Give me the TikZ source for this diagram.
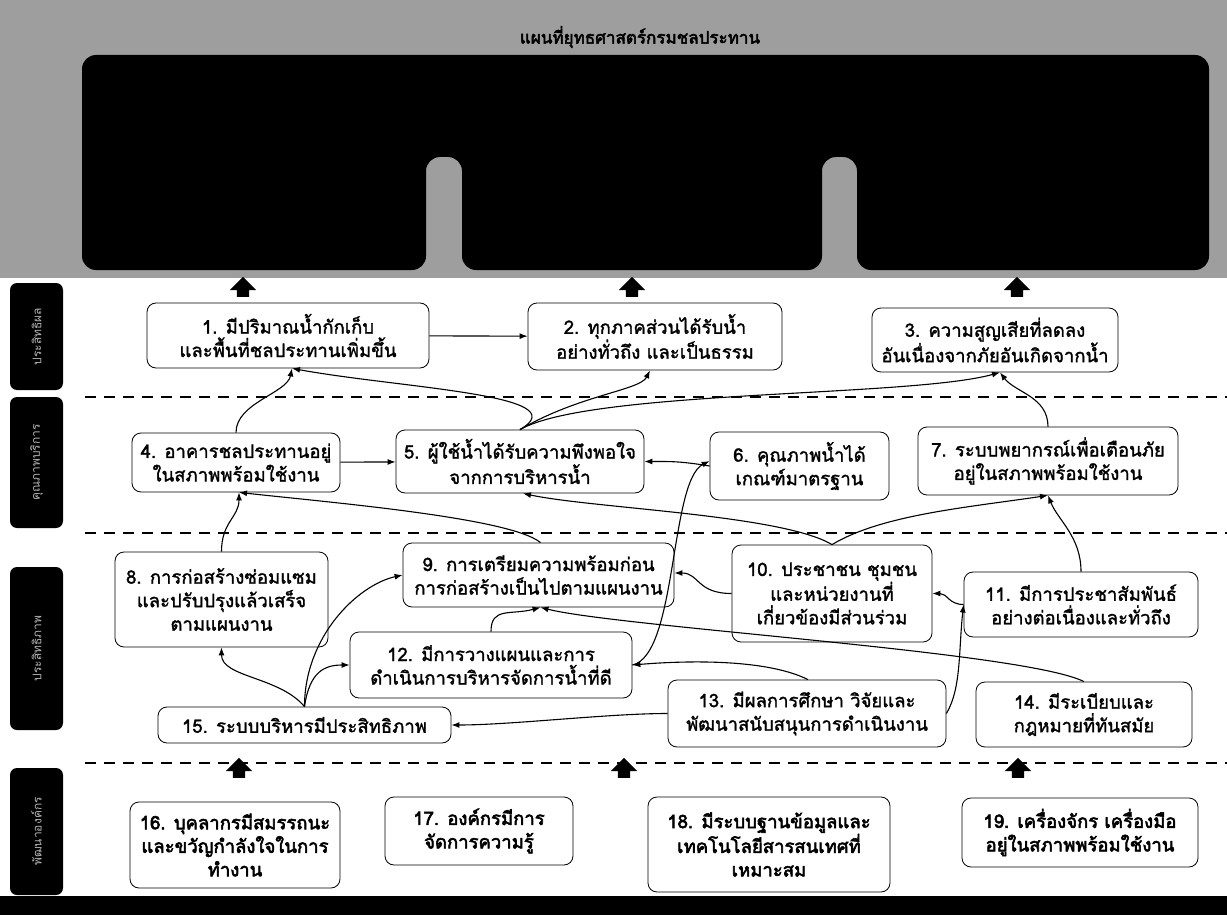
\documentclass[tikz,border=0pt]{standalone}
\usepackage{fontspec}
\newfontfamily\thaifont[Script=Thai,BoldFont=Loma,BoldFeatures={FakeBold=1.6}]{Loma}
\newfontfamily\thaiheavy[Script=Thai,FakeBold=3]{Loma}
\usetikzlibrary{arrows.meta,shapes.arrows}

\begin{document}
\begin{tikzpicture}[x=1pt,y=-1pt,>={Latex[length=8pt,width=6pt]},
  box/.style={draw,thick,rounded corners=9pt,align=center,inner sep=2pt,
    font=\thaifont\bfseries\fontsize{18.5}{23.5}\selectfont},
  heavybox/.style={box,font=\thaiheavy\fontsize{18.5}{23.5}\selectfont},
  lbl/.style={fill=black,rounded corners=7pt,rotate=90,minimum height=53pt,
    inner sep=1pt,text=white!70!black,font=\thaifont\fontsize{12}{14}\selectfont},
  uparrow/.style={single arrow,fill=black,rotate=90,minimum height=20pt,
    inner xsep=0pt,inner ysep=6pt,single arrow head extend=7pt},
  conn/.style={->,line width=1.1pt},
  sep/.style={line width=1.6pt,dash pattern=on 11pt off 8pt}]
\useasboundingbox (0,0) rectangle (1227,915);

% top band
\fill[black!38] (0,0) rectangle (1227,278);
\node[font=\thaiheavy\fontsize{17}{20}\selectfont] (title) at (640,37) {แผนที่ยุทธศาสตร์กรมชลประทาน};
\fill[black,rounded corners=14pt] (82,55) -- (1209,55) -- (1209,270) -- (857,270) -- (857,157)
  -- (822,157) -- (822,270) -- (462,270) -- (462,157) -- (426,157) -- (426,270) -- (82,270) -- cycle;
\fill[black] (0,896) rectangle (1227,915);

% layer labels
\node[lbl,minimum width=107pt] (l1) at (36.5,336.5) {ประสิทธิผล};
\node[lbl,minimum width=131pt] (l2) at (36.5,462.5) {คุณภาพบริการ};
\node[lbl,minimum width=163pt] (l3) at (36.5,648.5) {ประสิทธิภาพ};
\node[lbl,minimum width=127pt] (l4) at (36.5,831.5) {พัฒนาองค์กร};

% separators
\draw[sep] (85,397) -- (1227,397);
\draw[sep] (85,533) -- (1227,533);
\draw[sep] (85,763) -- (1227,763);

% big arrows
\node[uparrow] (a1) at (243,290) {};
\node[uparrow] (a2) at (632,290) {};
\node[uparrow] (a3) at (1017,290) {};
\node[uparrow] (a4) at (239,771) {};
\node[uparrow] (a5) at (624,771) {};
\node[uparrow] (a6) at (1018,771) {};

% row 1
\node[box,minimum width=282pt,minimum height=65pt] (b1) at (288,335.5) {1. มีปริมาณน้ำกักเก็บ\\และพื้นที่ชลประทานเพิ่มขึ้น};
\node[box,minimum width=254pt,minimum height=67pt] (b2) at (655,336.5) {2. ทุกภาคส่วนได้รับน้ำ\\อย่างทั่วถึง และเป็นธรรม};
\node[box,minimum width=246pt,minimum height=64pt] (b3) at (995,340) {3. ความสูญเสียที่ลดลง\\อันเนื่องจากภัยอันเกิดจากน้ำ};
% row 2
\node[box,minimum width=208pt,minimum height=59pt] (b4) at (236,462.5) {4. อาคารชลประทานอยู่\\ในสภาพพร้อมใช้งาน};
\node[box,minimum width=248pt,minimum height=63pt] (b5) at (520,461.5) {5. ผู้ใช้น้ำได้รับความพึงพอใจ\\จากการบริหารน้ำ};
\node[box,minimum width=179pt,minimum height=68pt] (b6) at (799.5,466) {6. คุณภาพน้ำได้\\เกณฑ์มาตรฐาน};
\node[box,minimum width=260pt,minimum height=68pt] (b7) at (1048,461) {7. ระบบพยากรณ์เพื่อเตือนภัย\\อยู่ในสภาพพร้อมใช้งาน};
% row 3
\node[box,minimum width=213pt,minimum height=95pt] (b8) at (221.5,599.5) {8. การก่อสร้างซ่อมแซม\\และปรับปรุงแล้วเสร็จ\\ตามแผนงาน};
\node[box,minimum width=271pt,minimum height=64pt] (b9) at (538.5,575) {9. การเตรียมความพร้อมก่อน\\การก่อสร้างเป็นไปตามแผนงาน};
\node[box,minimum width=200pt,minimum height=97pt] (b10) at (832,593.5) {10. ประชาชน ชุมชน\\และหน่วยงานที่\\เกี่ยวข้องมีส่วนร่วม};
\node[box,minimum width=234pt,minimum height=65pt] (b11) at (1081,604.5) {11. มีการประชาสัมพันธ์\\อย่างต่อเนื่องและทั่วถึง};
\node[box,minimum width=282pt,minimum height=66pt] (b12) at (491,665) {12. มีการวางแผนและการ\\ดำเนินการบริหารจัดการน้ำที่ดี};
\node[box,minimum width=278pt,minimum height=67pt] (b13) at (807,713.5) {13. มีผลการศึกษา วิจัยและ\\พัฒนาสนับสนุนการดำเนินงาน};
\node[box,minimum width=216pt,minimum height=65pt] (b14) at (1084,714.5) {14. มีระเบียบและ\\กฎหมายที่ทันสมัย};
\node[box,minimum width=293pt,minimum height=36pt] (b15) at (304.5,725) {15. ระบบบริหารมีประสิทธิภาพ};
% row 4
\node[heavybox,minimum width=210pt,minimum height=86pt] (b16) at (235,845) {16. บุคลากรมีสมรรถนะ\\และขวัญกำลังใจในการ\\ทำงาน};
\node[heavybox,minimum width=188pt,minimum height=68pt] (b17) at (479,831) {17. องค์กรมีการ\\จัดการความรู้};
\node[heavybox,minimum width=242pt,minimum height=95pt] (b18) at (769,844.5) {18. มีระบบฐานข้อมูลและ\\เทคโนโลยีสารสนเทศที่\\เหมาะสม};
\node[heavybox,minimum width=236pt,minimum height=69pt] (b19) at (1080,832.5) {19. เครื่องจักร เครื่องมือ\\อยู่ในสภาพพร้อมใช้งาน};

% links
\draw[conn] (b1) -- (b2);
\draw[conn] (b4.north) .. controls +(0,-30) and +(-5,25) .. ([xshift=4pt]b1.south);
\draw[conn] (b5.north) .. controls +(60,-35) and +(110,20) .. ([xshift=4pt]b1.south);
\draw[conn] (b5.north) .. controls +(60,-35) and +(-10,20) .. ([xshift=-5pt]b2.south);
\draw[conn] (b5.north) .. controls +(70,-40) and +(-90,25) .. ([xshift=5pt]b3.south);
\draw[conn] (b7.north) .. controls +(0,-30) and +(15,20) .. ([xshift=5pt]b3.south);
\draw[conn] (b4) -- (b5);
\draw[conn] (b6.west) .. controls +(-30,-5) and +(25,0) .. (b5.east);
\draw[conn] (b8.north) .. controls +(0,-30) and +(0,25) .. ([xshift=3pt]b4.south);
\draw[conn] ([xshift=2pt]b9.north) .. controls +(-30,-25) and +(90,10) .. ([xshift=3pt]b4.south);
\draw[conn] (b10.north) .. controls +(-50,-30) and +(70,15) .. ([xshift=3pt]b5.south);
\draw[conn] (b10.north) .. controls +(50,-30) and +(-80,12) .. (b7.south);
\draw[conn] (b11.north) .. controls +(0,-35) and +(10,25) .. (b7.south);
\draw[conn] (b11.west) .. controls +(-15,0) and +(15,0) .. (b10.east);
\draw[conn] (b10.west) .. controls +(-35,0) and +(25,0) .. ([yshift=2pt]b9.east);
\draw[conn] (b12.north) .. controls +(0,-25) and +(-30,8) .. ([xshift=2pt]b9.south);
\draw[conn] (b14.north) .. controls +(-60,-30) and +(80,20) .. ([xshift=2pt]b9.south);
\draw[conn] (b12.east) .. controls +(45,-10) and +(-40,20) .. ([yshift=5pt]b6.west);
\draw[conn] ([xshift=1pt]b13.north) .. controls +(-40,-20) and +(60,-5) .. (b12.east);
\draw[conn] (b13.west) .. controls +(-60,0) and +(60,0) .. (b15.east);
\draw[conn] (b13.east) .. controls +(15,-25) and +(-5,45) .. (b11.west);
\draw[conn] (b15.north) .. controls +(-25,-30) and +(0,30) .. (b8.south);
\draw[conn] (b15.north) .. controls +(0,-70) and +(-45,10) .. (b9.west);
\draw[conn] (b15.north) .. controls +(5,-35) and +(-25,0) .. (b12.west);
\end{tikzpicture}
\end{document}
